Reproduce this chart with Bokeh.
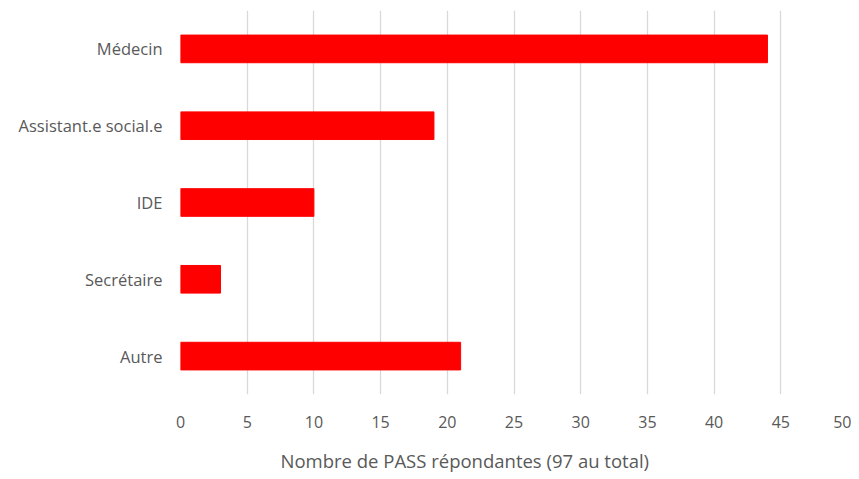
from bokeh.plotting import figure
from bokeh.models import FactorRange, Range1d, FixedTicker, Title
from bokeh.embed import file_html
from bokeh.resources import INLINE

categories = ["Médecin", "Assistant.e social.e", "IDE", "Secrétaire", "Autre"]
values = [44, 19, 10, 3, 21]
x_ticks = list(range(0, 55, 5))
x_title = "Nombre de PASS répondantes (97 au total)"

cats_rev = categories[::-1]
vals_rev = values[::-1]

p = figure(frame_width=667, frame_height=384, output_backend="svg", toolbar_location=None,
           y_range=FactorRange(*cats_rev), x_range=Range1d(0, 50),
           min_border_left=180, min_border_right=4, min_border_top=10, min_border_bottom=5)
p.outline_line_color = None
p.hbar(y=cats_rev, right=vals_rev, left=0, height=0.36, color="#FF0000")

font = "Open Sans"
txt = "#595959"
p.xaxis.ticker = FixedTicker(ticks=x_ticks)
p.xaxis.axis_line_color = None
p.xaxis.major_tick_line_color = None
p.xaxis.minor_tick_line_color = None
p.xaxis.major_label_text_font = font
p.xaxis.major_label_text_font_size = "16px"
p.xaxis.major_label_text_color = txt
p.xaxis.major_label_standoff = 15

t = Title(text=x_title, align="left", offset=100, standoff=30,
          text_font=font, text_font_size="18.5px", text_color=txt,
          text_font_style="normal")
p.add_layout(t, "below")

p.yaxis.axis_line_color = None
p.yaxis.major_tick_line_color = None
p.yaxis.minor_tick_line_color = None
p.yaxis.major_label_text_font = font
p.yaxis.major_label_text_font_size = "16.5px"
p.yaxis.major_label_text_color = txt
p.yaxis.major_label_standoff = 12

p.xgrid.grid_line_color = "#D9D9D9"
p.xgrid.grid_line_width = 1.3
p.ygrid.grid_line_color = None

open("out.html", "w").write(file_html(p, INLINE))
